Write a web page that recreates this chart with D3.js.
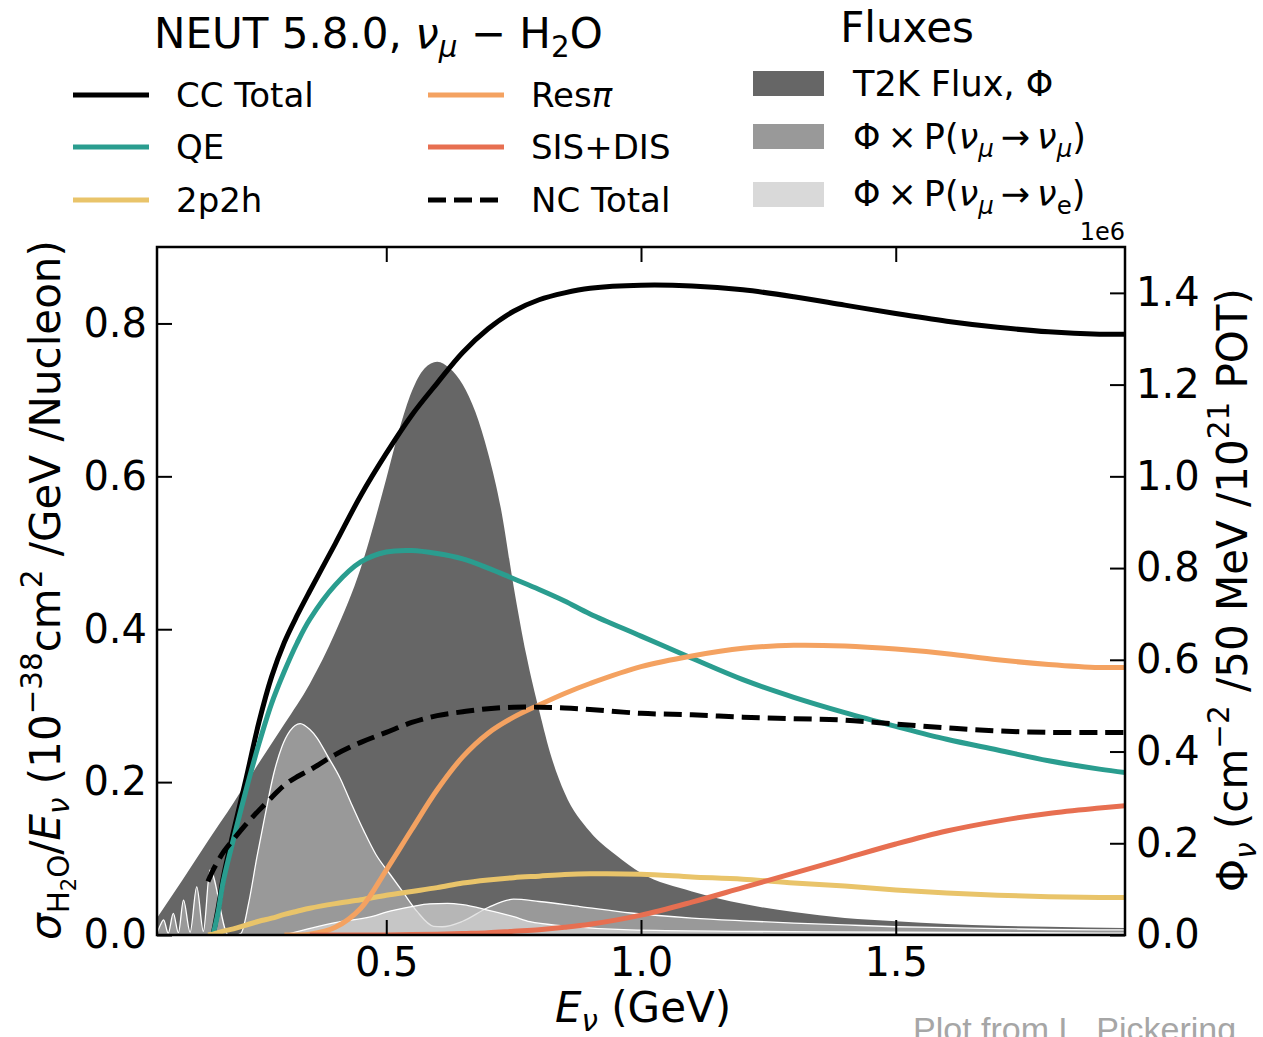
<!DOCTYPE html>
<html><head><meta charset="utf-8">
<script src="https://cdn.jsdelivr.net/npm/d3@7"></script>
<style>
html,body{margin:0;padding:0;background:#fff;}
svg text{font-family:"DejaVu Sans",sans-serif;}
</style></head>
<body>
<script>
// ---------------- DATA ----------------
// Cross-section energy grid (GeV)
const xsEnergy = [0.15,0.16,0.17,0.18,0.2,0.225,0.25,0.275,0.3,0.325,0.35,0.4,0.45,0.5,0.55,0.6,0.65,0.7,0.75,0.8,0.85,0.9,1.0,1.1,1.2,1.3,1.4,1.5,1.6,1.7,1.8,1.9,1.95];
// sigma/E (1e-38 cm^2 /GeV /nucleon)
const ccTotal = [null,0.0,0.035,0.075,0.135,0.205,0.278,0.338,0.383,0.418,0.45,0.512,0.575,0.63,0.68,0.722,0.762,0.793,0.816,0.831,0.84,0.846,0.85,0.849,0.844,0.835,0.824,0.813,0.803,0.795,0.789,0.786,0.786];
const qe      = [null,0.0,0.03,0.07,0.125,0.19,0.25,0.303,0.345,0.382,0.413,0.458,0.488,0.501,0.503,0.499,0.492,0.48,0.466,0.452,0.437,0.42,0.391,0.362,0.334,0.311,0.291,0.273,0.256,0.242,0.228,0.217,0.2125];
const mp2h    = [0.0,0.001,0.003,0.005,0.008,0.013,0.018,0.022,0.027,0.031,0.035,0.041,0.046,0.052,0.057,0.062,0.068,0.072,0.075,0.077,0.079,0.080,0.0795,0.076,0.073,0.068,0.064,0.059,0.055,0.052,0.050,0.049,0.049];
const resPi   = [null,null,null,null,null,null,null,null,0.0,0.0,0.001,0.01,0.035,0.085,0.138,0.19,0.233,0.264,0.285,0.301,0.316,0.329,0.351,0.365,0.375,0.379,0.378,0.374,0.368,0.36,0.354,0.350,0.350];
const sisDis  = [null,null,null,null,null,null,null,null,null,null,0.0,0.0,0.0,0.0,0.0005,0.001,0.002,0.003,0.005,0.007,0.01,0.014,0.026,0.043,0.062,0.081,0.1,0.119,0.136,0.149,0.159,0.166,0.169];
const ncTotal = [0.07,0.085,0.097,0.108,0.125,0.145,0.163,0.18,0.196,0.207,0.216,0.236,0.252,0.265,0.278,0.287,0.292,0.296,0.298,0.298,0.297,0.295,0.290,0.288,0.285,0.283,0.281,0.276,0.271,0.267,0.265,0.265,0.265];

// T2K flux (x1e6 /cm^2 /50 MeV /1e21 POT)
const fluxEnergy = [0.05,0.1,0.15,0.2,0.25,0.3,0.35,0.4,0.45,0.5,0.525,0.55,0.575,0.6,0.625,0.65,0.675,0.7,0.725,0.75,0.775,0.8,0.825,0.85,0.9,0.95,1.0,1.1,1.2,1.3,1.4,1.5,1.6,1.7,1.8,1.95];
const fluxT2K    = [0.037,0.12,0.205,0.288,0.375,0.46,0.548,0.66,0.80,0.995,1.10,1.185,1.235,1.25,1.235,1.20,1.14,1.05,0.93,0.76,0.61,0.49,0.385,0.31,0.225,0.175,0.135,0.095,0.068,0.05,0.037,0.03,0.024,0.02,0.018,0.015];

// Flux x P(numu -> numu)
const numuEnergy = [0.05,0.056,0.063,0.072,0.082,0.092,0.102,0.115,0.128,0.141,0.154,0.19,0.205,0.215,0.23,0.246,0.262,0.279,0.295,0.311,0.331,0.35,0.364,0.385,0.409,0.43,0.456,0.48,0.507,0.535,0.56,0.593,0.61,0.65,0.7,0.75,0.8,0.88,0.98,1.1,1.2,1.3,1.4,1.5,1.6,1.7,1.8,1.95];
const fluxNumu   = [0.004,0.02,0.033,0.004,0.047,0.005,0.076,0.006,0.105,0.008,0.142,0.0,0.0,0.004,0.07,0.169,0.26,0.351,0.41,0.445,0.461,0.448,0.43,0.39,0.343,0.29,0.227,0.175,0.133,0.09,0.052,0.019,0.018,0.03,0.06,0.078,0.073,0.062,0.048,0.037,0.031,0.026,0.022,0.018,0.016,0.014,0.012,0.011];

// Flux x P(numu -> nue)
const nueEnergy = [0.3,0.357,0.4,0.475,0.5,0.55,0.585,0.62,0.65,0.697,0.75,0.782,0.85,0.978,1.2,1.5,1.95];
const fluxNue   = [0.0,0.016,0.027,0.041,0.05,0.062,0.068,0.069,0.066,0.055,0.04,0.029,0.02,0.011,0.008,0.006,0.004];

const xTicks = [0.5,1.0,1.5];
const yLeftTicks = [0.0,0.2,0.4,0.6,0.8];
const yRightTicks = [0.0,0.2,0.4,0.6,0.8,1.0,1.2,1.4];

const seriesNames = ["CC Total","QE","2p2h","Res\u03c0","SIS+DIS","NC Total"];
const seriesColors = ["#000000","#2a9d8f","#e9c46a","#f4a261","#e76f51","#000000"];

// ---------------- LAYOUT ----------------
const W = 1263, H = 1037;
const L = 157, R = 1125, T = 247, B = 935;

const svg = d3.select("body").append("svg").attr("width", W).attr("height", H);

const x = d3.scaleLinear().domain([0.05, 1.95]).range([L, R]);
const yL = d3.scaleLinear().domain([0, 0.9]).range([B, T]);
const yR = d3.scaleLinear().domain([0, 1.5]).range([B, T]);

svg.append("defs").append("clipPath").attr("id", "clip")
  .append("rect").attr("x", L).attr("y", T).attr("width", R - L).attr("height", B - T);

const plot = svg.append("g").attr("clip-path", "url(#clip)");

// flux areas
function fluxArea(E, V) {
  return d3.area().x((d, i) => x(E[i])).y0(yR(0)).y1(d => yR(d)).curve(d3.curveMonotoneX)(V);
}
plot.append("path").attr("d", fluxArea(fluxEnergy, fluxT2K)).attr("fill", "#666666");
plot.append("path").attr("d", fluxArea(numuEnergy, fluxNumu)).attr("fill", "#999999")
  .attr("stroke", "#ffffff").attr("stroke-width", 1.3);
plot.append("path").attr("d", fluxArea(nueEnergy, fluxNue)).attr("fill", "#d9d9d9").attr("fill-opacity", 0.7)
  .attr("stroke", "#ffffff").attr("stroke-width", 1.3);

// cross-section lines
const xsSeries = [ccTotal, qe, mp2h, resPi, sisDis, ncTotal];
xsSeries.forEach((vals, k) => {
  const line = d3.line()
    .defined(d => d != null)
    .x((d, i) => x(xsEnergy[i]))
    .y(d => yL(d))
    .curve(d3.curveCatmullRom.alpha(0.5));
  const p = plot.append("path").attr("d", line(vals)).attr("fill", "none")
    .attr("stroke", seriesColors[k]).attr("stroke-width", 5);
  if (k === 5) p.attr("stroke-dasharray", "18,8");
});

// axes
const tickLen = 15;
const fmt1 = d3.format(".1f");
const gL = svg.append("g").attr("transform", `translate(${L},0)`)
  .call(d3.axisLeft(yL).tickValues(yLeftTicks).tickFormat(fmt1).tickSize(-tickLen).tickSizeOuter(0).tickPadding(10));
const gR = svg.append("g").attr("transform", `translate(${R},0)`)
  .call(d3.axisRight(yR).tickValues(yRightTicks).tickFormat(fmt1).tickSize(-tickLen).tickSizeOuter(0).tickPadding(11));
const gB = svg.append("g").attr("transform", `translate(0,${B})`)
  .call(d3.axisBottom(x).tickValues(xTicks).tickFormat(fmt1).tickSize(-tickLen).tickSizeOuter(0).tickPadding(13));
const gT = svg.append("g").attr("transform", `translate(0,${T})`)
  .call(d3.axisTop(x).tickValues(xTicks).tickFormat("").tickSize(-tickLen).tickSizeOuter(0));
[gL, gR, gB, gT].forEach(g => {
  g.select(".domain").remove();
  g.selectAll(".tick line").attr("stroke", "#000").attr("stroke-width", 2);
  g.selectAll(".tick text").attr("font-size", 40).attr("fill", "#000")
    .attr("font-family", "DejaVu Sans");
});

svg.append("rect").attr("x", L).attr("y", T).attr("width", R - L).attr("height", B - T)
  .attr("fill", "none").attr("stroke", "#000").attr("stroke-width", 2.5);

svg.append("text").attr("x", R).attr("y", 240).attr("text-anchor", "end")
  .attr("font-size", 24).text("1e6");

// ---------------- rich text helper ----------------
function rich(sel, parts, fs) {
  let prev = 0;
  parts.forEach(([t, o]) => {
    o = o || {};
    const off = (o.off || 0) * fs;
    const ts = sel.append("tspan").text(t)
      .attr("font-size", fs * (o.s || 1))
      .attr("dy", off - prev);
    if (o.i) ts.attr("font-style", "italic");
    prev = off;
  });
  return sel;
}
const SUB = {off: 0.22, s: 0.7};
const SUBI = {off: 0.22, s: 0.7, i: true};
const SUP = {off: -0.42, s: 0.7};

// x label
rich(svg.append("text").attr("x", 643).attr("y", 1022).attr("text-anchor", "middle"),
  [["E", {i: true}], ["\u03bd", SUBI], [" (GeV)", {}]], 42);

// left y label
rich(svg.append("text").attr("transform", "translate(60,590) rotate(-90)").attr("text-anchor", "middle"),
  [["\u03c3", {i: true}], ["H", SUB], ["2", {off: 0.38, s: 0.5}], ["O", SUB], ["/", {}], ["E", {i: true}], ["\u03bd", SUBI],
   [" (10", {}], ["\u221238", SUP], ["cm", {}], ["2", SUP], [" /GeV /Nucleon)", {}]], 42);

// right y label
rich(svg.append("text").attr("transform", "translate(1247,590) rotate(-90)").attr("text-anchor", "middle"),
  [["\u03a6", {}], ["\u03bd", SUBI], [" (cm", {}], ["\u22122", SUP], [" /50 MeV /10", {}], ["21", SUP], [" POT)", {}]], 42);

// title
rich(svg.append("text").attr("x", 154).attr("y", 48),
  [["NEUT 5.8.0, ", {}], ["\u03bd", {i: true}], ["\u03bc", SUBI], [" \u2212 H", {}], ["2", SUB], ["O", {}]], 42);

// legend: cross sections
const legRows = [95, 147, 200];
seriesNames.forEach((name, k) => {
  const col = Math.floor(k / 3), row = k % 3;
  const x0 = col === 0 ? 73 : 428;
  const yy = legRows[row];
  const ln = svg.append("line").attr("x1", x0).attr("x2", x0 + 76).attr("y1", yy).attr("y2", yy)
    .attr("stroke", seriesColors[k]).attr("stroke-width", 5);
  if (k === 5) ln.attr("stroke-dasharray", "18,8");
  const tx = svg.append("text").attr("x", x0 + 103).attr("y", yy + 12).attr("font-size", 34);
  if (k === 3) rich(tx, [["Res", {}], ["\u03c0", {i: true}]], 34);
  else tx.text(name);
});

// legend: fluxes
svg.append("text").attr("x", 907).attr("y", 42).attr("text-anchor", "middle").attr("font-size", 42).text("Fluxes");
const fluxSw = [["#666666", 71], ["#999999", 124], ["#d9d9d9", 182]];
fluxSw.forEach(([c, yy]) => {
  svg.append("rect").attr("x", 753).attr("y", yy).attr("width", 71).attr("height", 25).attr("fill", c);
});
svg.append("text").attr("x", 853).attr("y", 96).attr("font-size", 35).text("T2K Flux, \u03a6");
rich(svg.append("text").attr("x", 853).attr("y", 149),
  [["\u03a6\u2009\u00d7\u2009P(", {}], ["\u03bd", {i: true}], ["\u03bc", SUBI], ["\u2009\u2192\u2009", {}], ["\u03bd", {i: true}], ["\u03bc", SUBI], [")", {}]], 35);
rich(svg.append("text").attr("x", 853).attr("y", 206),
  [["\u03a6\u2009\u00d7\u2009P(", {}], ["\u03bd", {i: true}], ["\u03bc", SUBI], ["\u2009\u2192\u2009", {}], ["\u03bd", {i: true}], ["e", SUB], [")", {}]], 35);

// credit (cut off at the bottom edge, as in the reference)
svg.append("text").attr("x", 913).attr("y", 1041).attr("font-size", 34)
  .attr("fill", "#a6a6a6")
  .style("font-family", "'Liberation Sans', Arial, sans-serif")
  .text("Plot from L. Pickering");
</script>
</body></html>
